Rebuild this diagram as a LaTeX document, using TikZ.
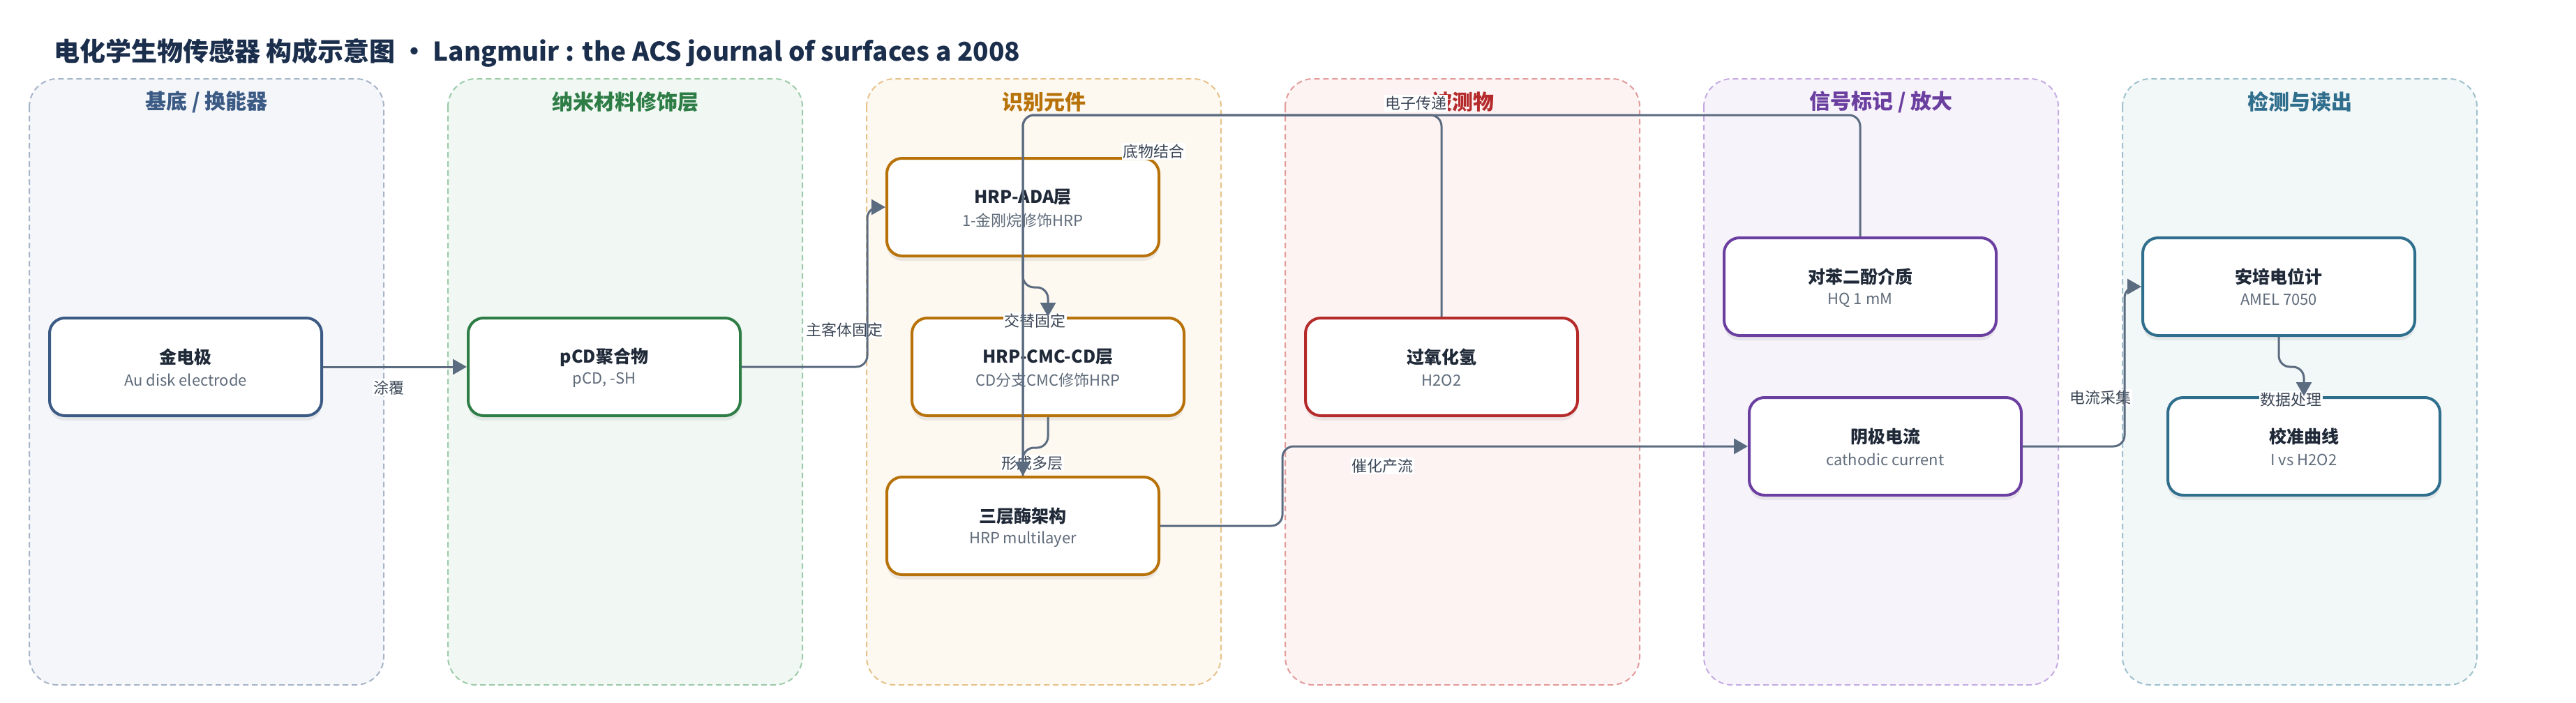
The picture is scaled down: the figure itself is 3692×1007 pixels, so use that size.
\documentclass[tikz,border=0pt]{standalone}
\usepackage{fontspec}
\setmainfont{Noto Sans CJK SC}
\usetikzlibrary{arrows.meta,shadows,calc}
\definecolor{cA}{HTML}{3B5A84}\definecolor{cAl}{HTML}{A7B5C9}\definecolor{cAf}{HTML}{F4F6FA}
\definecolor{cB}{HTML}{2E7D46}\definecolor{cBl}{HTML}{9CCBA9}\definecolor{cBf}{HTML}{F1F8F3}
\definecolor{cC}{HTML}{B8720A}\definecolor{cCl}{HTML}{E6C28A}\definecolor{cCf}{HTML}{FDF8F0}
\definecolor{cD}{HTML}{B52A2A}\definecolor{cDl}{HTML}{E39B9B}\definecolor{cDf}{HTML}{FDF3F3}
\definecolor{cE}{HTML}{6B3FA0}\definecolor{cEl}{HTML}{C5ABE2}\definecolor{cEf}{HTML}{F7F3FB}
\definecolor{cF}{HTML}{2F6E8C}\definecolor{cFl}{HTML}{9FC1CE}\definecolor{cFf}{HTML}{F2F7F8}
\definecolor{ec}{HTML}{5B6B80}\definecolor{lc}{HTML}{3B4656}\definecolor{sc}{HTML}{5F6B7A}
\definecolor{tc}{HTML}{1F2937}\definecolor{titlec}{HTML}{1B2F4D}
\tikzset{
  lane/.style={dash pattern=on 8pt off 5pt, line width=2pt, rounded corners=40pt},
  hdr/.style={font=\bfseries\fontsize{30}{36}\selectfont, inner sep=0pt},
  box/.style={rectangle, rounded corners=22pt, minimum width=390pt, minimum height=140pt,
    fill=white, line width=4pt, drop shadow={shadow xshift=0pt, shadow yshift=-7pt, opacity=0.13}},
  ttl/.style={font=\bfseries\fontsize{25}{30}\selectfont, text=tc, inner sep=0pt},
  subt/.style={font=\fontsize{22}{26}\selectfont, text=sc, inner sep=0pt},
  lbl/.style={fill=white, inner sep=1.5pt, font=\fontsize{22}{26}\selectfont, text=lc},
  conn/.style={draw=ec, line width=3pt, rounded corners=16pt, -{Triangle[length=20pt,width=22pt]}},
  connb/.style={draw=ec, line width=3pt, rounded corners=16pt},
}
\newcommand\lanebox[6]{%
  \draw[lane,draw=#3,fill=#4] (#2,113) rectangle ++(508,869);
  \node[hdr,text=#5] (#1) at (#2+254,146) {#6};}
\newcommand\mybox[6]{%
  \node[box,draw=#4] (#1) at (#2,#3) {};
  \node[ttl] (#1t) at ($(#1.center)+(0,-14)$) {#5};
  \node[subt] (#1s) at ($(#1.center)+(0,19)$) {#6};}
\begin{document}
\begin{tikzpicture}[x=1pt,y=-1pt]
\fill[white] (0,0) rectangle (3692,1007);
\useasboundingbox (0,0) rectangle (3692,1007);
\node[anchor=west, font=\bfseries\fontsize{37}{44}\selectfont, text=titlec, inner sep=0pt] (title) at (77,76)
  {电化学生物传感器 构成示意图 • Langmuir : the ACS journal of surfaces a 2008};
\lanebox{h1}{42}{cAl}{cAf}{cA}{基底 / 换能器}
\lanebox{h2}{642}{cBl}{cBf}{cB}{纳米材料修饰层}
\lanebox{h3}{1242}{cCl}{cCf}{cC}{识别元件}
\lanebox{h4}{1842}{cDl}{cDf}{cD}{被测物}
\lanebox{h5}{2442}{cEl}{cEf}{cE}{信号标记 / 放大}
\lanebox{h6}{3042}{cFl}{cFf}{cF}{检测与读出}
\mybox{n1}{266}{526}{cA}{金电极}{Au disk electrode}
\mybox{n2}{866}{526}{cB}{pCD聚合物}{pCD, -SH}
\mybox{n3}{1466}{297}{cC}{HRP-ADA层}{1-金刚烷修饰HRP}
\mybox{n4}{1502}{526}{cC}{HRP-CMC-CD层}{CD分支CMC修饰HRP}
\mybox{n5}{1466}{754}{cC}{三层酶架构}{HRP multilayer}
\mybox{n6}{2066}{526}{cD}{过氧化氢}{H2O2}
\mybox{n7}{2666}{411}{cE}{对苯二酚介质}{HQ 1 mM}
\mybox{n8}{2702}{640}{cE}{阴极电流}{cathodic current}
\mybox{n9}{3266}{411}{cF}{安培电位计}{AMEL 7050}
\mybox{n10}{3302}{640}{cF}{校准曲线}{I vs H2O2}
% labels
\node[lbl] (l1) at (557,556) {涂覆};
\node[lbl] (l2) at (1210,473) {主客体固定};
\node[lbl] (l3) at (1483,460) {交替固定};
\node[lbl] (l4) at (1479,664) {形成多层};
\node[lbl] (l5) at (1653,217) {底物结合};
\node[lbl] (l6) at (2029,148) {电子传递};
\node[lbl] (l7) at (1981,668) {催化产流};
\node[lbl] (l8) at (3010,570) {电流采集};
\node[lbl] (l9) at (3283,573) {数据处理};
% connectors
\coordinate (top) at (0,165);
\draw[conn] (n1.east) -- (n2.west);
\draw[conn] (n2.east) -- ++(180,0) |- (n3.west);
\draw[conn] (n3.south) -- ++(0,43) -| (n4.north);
\draw[conn] (n4.south) -- ++(0,44) -| (n5.north);
\draw[connb] (n6.north) -- (n6.north |- top) -- (n5.north |- top) -- (n5.north);
\draw[conn] (n7.north) -- (n7.north |- top) -- (n5.north |- top) -- (n5.north);
\draw[conn] (n5.east) -- ++(175,0) |- (n8.west);
\draw[conn] (n8.east) -- ++(146,0) |- (n9.west);
\draw[conn] (n9.south) -- ++(0,43) -| (n10.north);
\end{tikzpicture}
\end{document}
